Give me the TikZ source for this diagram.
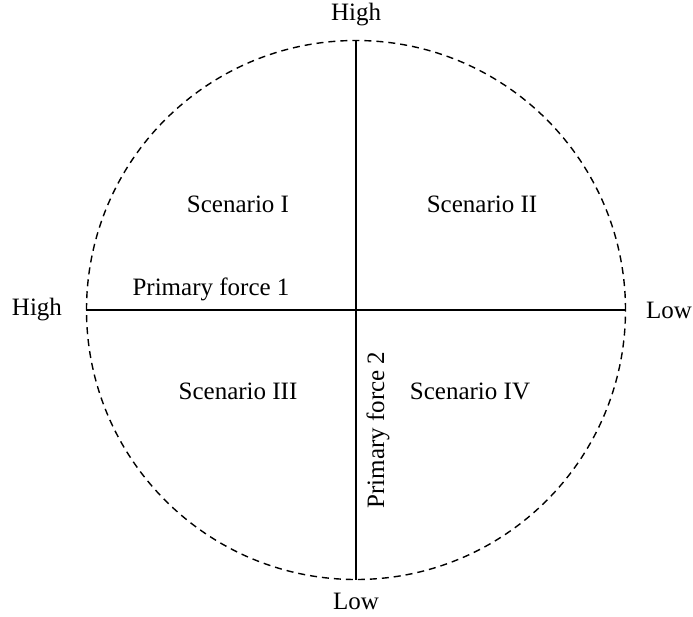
\documentclass[tikz,border=0pt]{standalone}
\usepackage{fontspec}
\setmainfont{Liberation Serif}
\tikzset{
  lbl/.style={inner sep=0pt, font=\fontsize{25}{30}\selectfont},
  axis/.style={line width=1.3pt},
  ring/.style={circle, draw, dash pattern=on 7pt off 5pt, line width=1.4pt, minimum size=539pt, inner sep=0pt}
}
\begin{document}
\begin{tikzpicture}[x=1pt,y=-1pt]
\useasboundingbox (0,0) rectangle (693,616);
\node[ring] (c) at (356,310) {};
\draw[axis] (c.north) -- (c.south);
\draw[axis] (c.west) -- (c.east);
\node[lbl] (top) at (356,15) {High};
\node[lbl] (bot) at (356,601) {Low};
\node[lbl] (lft) at (37,310) {High};
\node[lbl] (rgt) at (669,310) {Low};
\node[lbl, anchor=base] (s1) at (238,212) {Scenario I};
\node[lbl, anchor=base] (s2) at (482,212) {Scenario II};
\node[lbl, anchor=base] (s3) at (238,399) {Scenario III};
\node[lbl, anchor=base] (s4) at (470,399) {Scenario IV};
\node[lbl, anchor=base] (p1) at (211,295) {Primary force 1};
\node[lbl, anchor=base, rotate=90] (p2) at (384,430) {Primary force 2};
\end{tikzpicture}
\end{document}
